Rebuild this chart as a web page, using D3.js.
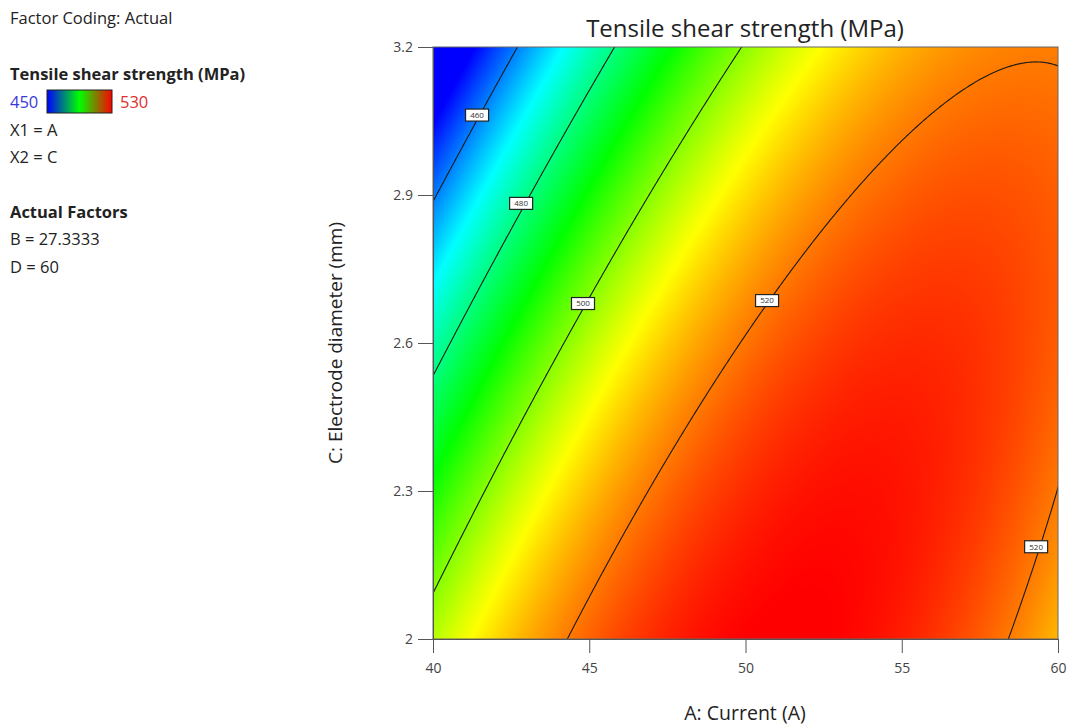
<!DOCTYPE html>
<html>
<head>
<meta charset="utf-8">
<script src="https://cdn.jsdelivr.net/npm/d3@7"></script>
<style>
    body { margin: 0; background: #fff; }
    svg { font-family: "Open Sans", "Noto Sans", sans-serif; }
</style>
</head>
<body>
<div id="chart"></div>
<script>
// response at the corners / mid points of the design space
var currentA = [40, 50, 60];
var diameterC = [2.0, 2.6, 3.2];
var strength = [            // rows follow diameterC, columns follow currentA
    [503.5, 530.0, 514.8],
    [476.5, 520.4, 522.4],
    [439.3, 500.5, 519.5]
];
var levels = [460, 480, 500, 520];
var labelSpots = [
    { level: 460, A: 41.41, C: 3.062 },
    { level: 480, A: 42.82, C: 2.883 },
    { level: 500, A: 44.80, C: 2.680 },
    { level: 520, A: 50.69, C: 2.686 },
    { level: 520, A: 59.30, C: 2.187 }
];
var xTicks = [40, 45, 50, 55, 60];
var yTicks = [2, 2.3, 2.6, 2.9, 3.2];
var legendLow = 450, legendHigh = 530;

var W = 1070, H = 727;
var plot = { left: 433, top: 47, right: 1058, bottom: 639 };

var svg = d3.select('#chart').append('svg')
    .attr('width', W)
    .attr('height', H);

var x = d3.scaleLinear().domain([40, 60]).range([plot.left, plot.right]);
var y = d3.scaleLinear().domain([2, 3.2]).range([plot.bottom, plot.top]);

var color = d3.scaleLinear()
    .domain([450, 470, 490, 509, 530])
    .range(['#0000ff', '#00ffff', '#00ff00', '#ffff00', '#ff0000'])
    .clamp(true);

// quadratic (lagrange) interpolation through the 3x3 read values
function basis(nodes, t) {
    var out = [];
    for (var i = 0; i < 3; i++) {
        var p = 1;
        for (var j = 0; j < 3; j++) {
            if (j !== i) p *= (t - nodes[j]) / (nodes[i] - nodes[j]);
        }
        out.push(p);
    }
    return out;
}

function response(a, c) {
    var ba = basis(currentA, a), bc = basis(diameterC, c), v = 0;
    for (var i = 0; i < 3; i++) {
        for (var j = 0; j < 3; j++) {
            v += bc[i] * ba[j] * strength[i][j];
        }
    }
    return v;
}

// colour field
var pw = plot.right - plot.left, ph = plot.bottom - plot.top;
var canvas = document.createElement('canvas');
canvas.width = pw;
canvas.height = ph;
var ctx = canvas.getContext('2d');
var img = ctx.createImageData(pw, ph);
for (var py = 0; py < ph; py++) {
    var cVal = y.invert(plot.top + py + 0.5);
    for (var px = 0; px < pw; px++) {
        var aVal = x.invert(plot.left + px + 0.5);
        var rgb = d3.rgb(color(response(aVal, cVal)));
        var k = (py * pw + px) * 4;
        img.data[k] = rgb.r;
        img.data[k + 1] = rgb.g;
        img.data[k + 2] = rgb.b;
        img.data[k + 3] = 255;
    }
}
ctx.putImageData(img, 0, 0);

svg.append('image')
    .attr('x', plot.left)
    .attr('y', plot.top)
    .attr('width', pw)
    .attr('height', ph)
    .attr('preserveAspectRatio', 'none')
    .attr('href', canvas.toDataURL());

// contour lines (grid a bit larger than the plot, then clipped)
svg.append('clipPath').attr('id', 'plotclip')
    .append('rect')
    .attr('x', plot.left).attr('y', plot.top)
    .attr('width', pw).attr('height', ph);

var nx = 300, ny = 300;
var a0 = 39.5, a1 = 60.5, c0 = 1.97, c1 = 3.23;
var grid = new Array(nx * ny);
for (var j = 0; j < ny; j++) {
    var cc = c1 - (j + 0.5) * (c1 - c0) / ny;
    for (var i = 0; i < nx; i++) {
        var aa = a0 + (i + 0.5) * (a1 - a0) / nx;
        grid[j * nx + i] = response(aa, cc);
    }
}

var contours = d3.contours().size([nx, ny]).thresholds(levels)(grid);
var proj = d3.geoTransform({
    point: function (gx, gy) {
        this.stream.point(
            x(a0 + gx * (a1 - a0) / nx),
            y(c1 - gy * (c1 - c0) / ny)
        );
    }
});

svg.append('g')
    .attr('clip-path', 'url(#plotclip)')
    .selectAll('path')
    .data(contours)
    .enter().append('path')
    .attr('d', d3.geoPath(proj))
    .attr('fill', 'none')
    .attr('stroke', '#1a1a1a')
    .attr('stroke-width', 1.1);

// contour labels
var lab = svg.append('g').selectAll('g')
    .data(labelSpots)
    .enter().append('g')
    .attr('transform', function (d) { return 'translate(' + x(d.A) + ',' + y(d.C) + ')'; });
lab.append('rect')
    .attr('x', -11.5).attr('y', -6)
    .attr('width', 23).attr('height', 12)
    .attr('fill', '#fff')
    .attr('stroke', '#222')
    .attr('stroke-width', 1.2);
lab.append('text')
    .attr('text-anchor', 'middle')
    .attr('dy', '0.35em')
    .attr('font-size', 8)
    .attr('fill', '#333')
    .text(function (d) { return d.level; });

// frame
svg.append('rect')
    .attr('x', plot.left).attr('y', plot.top)
    .attr('width', pw).attr('height', ph)
    .attr('fill', 'none')
    .attr('stroke', '#666')
    .attr('stroke-width', 1);

// axes
var xAxis = svg.append('g')
    .attr('transform', 'translate(0,' + plot.bottom + ')')
    .call(d3.axisBottom(x).tickValues(xTicks).tickSize(14).tickPadding(10));
var yAxis = svg.append('g')
    .attr('transform', 'translate(' + plot.left + ',0)')
    .call(d3.axisLeft(y).tickValues(yTicks).tickFormat(d3.format('')).tickSize(15).tickPadding(5));
[xAxis, yAxis].forEach(function (g) {
    g.selectAll('path').attr('stroke', '#555');
    g.selectAll('line').attr('stroke', '#555');
    g.selectAll('text').attr('font-size', 14).attr('fill', '#444')
        .attr('font-family', '"Open Sans", sans-serif');
});

svg.append('text')
    .attr('x', 745).attr('y', 37)
    .attr('text-anchor', 'middle')
    .attr('font-size', 24)
    .attr('fill', '#222')
    .text('Tensile shear strength (MPa)');

svg.append('text')
    .attr('x', 745).attr('y', 720)
    .attr('text-anchor', 'middle')
    .attr('font-size', 19.5)
    .attr('fill', '#222')
    .text('A: Current (A)');

svg.append('text')
    .attr('transform', 'translate(342,' + ((plot.top + plot.bottom) / 2) + ') rotate(-90)')
    .attr('text-anchor', 'middle')
    .attr('font-size', 19)
    .attr('fill', '#222')
    .text('C: Electrode diameter (mm)');

// legend block on the left
var grad = svg.append('defs').append('linearGradient').attr('id', 'legendGrad');
grad.append('stop').attr('offset', '0%').attr('stop-color', '#0000ff');
grad.append('stop').attr('offset', '50%').attr('stop-color', '#00ff00');
grad.append('stop').attr('offset', '100%').attr('stop-color', '#ff0000');

var leg = svg.append('g').attr('font-size', 16.5).attr('fill', '#222');
leg.append('text').attr('x', 10).attr('y', 24).text('Factor Coding: Actual');
leg.append('text').attr('x', 10).attr('y', 80).attr('font-weight', 'bold').text('Tensile shear strength (MPa)');
leg.append('text').attr('x', 10).attr('y', 108).attr('fill', '#3a3adc').text(legendLow);
leg.append('rect')
    .attr('x', 47).attr('y', 90).attr('width', 65).attr('height', 23)
    .attr('fill', 'url(#legendGrad)')
    .attr('stroke', '#222').attr('stroke-width', 1);
leg.append('text').attr('x', 120).attr('y', 108).attr('fill', '#e03030').text(legendHigh);
leg.append('text').attr('x', 10).attr('y', 136).text('X1 = A');
leg.append('text').attr('x', 10).attr('y', 163).text('X2 = C');
leg.append('text').attr('x', 10).attr('y', 218).attr('font-weight', 'bold').text('Actual Factors');
leg.append('text').attr('x', 10).attr('y', 245).text('B = 27.3333');
leg.append('text').attr('x', 10).attr('y', 273).text('D = 60');
</script>
</body>
</html>
